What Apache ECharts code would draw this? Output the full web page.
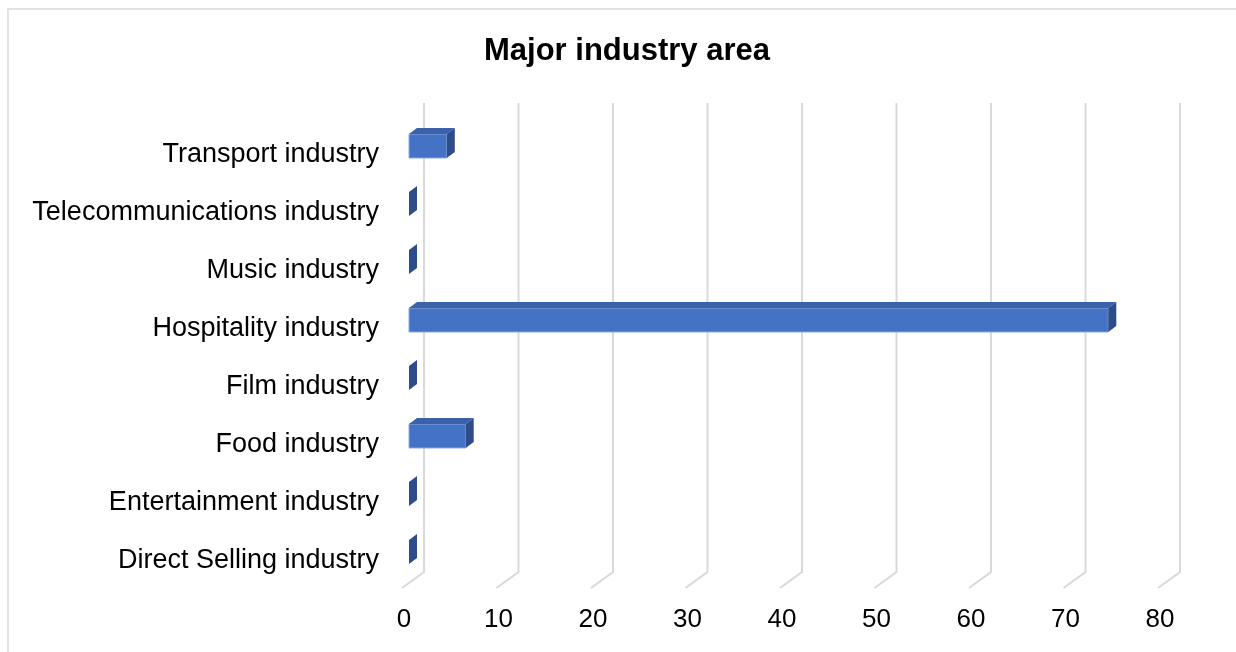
<!DOCTYPE html>
<html>
<head>
<meta charset="utf-8">
<title>Major industry area</title>
<script src="https://cdn.jsdelivr.net/npm/echarts@6/dist/echarts.min.js"></script>
<style>
  html, body { margin: 0; padding: 0; background: #ffffff; }
  #chart { width: 1236px; height: 652px; }
</style>
</head>
<body>
<div id="chart"></div>
<script>
// Industry categories, top to bottom
const categories = [
  'Transport industry',
  'Telecommunications industry',
  'Music industry',
  'Hospitality industry',
  'Film industry',
  'Food industry',
  'Entertainment industry',
  'Direct Selling industry'
];
// Count per industry
const values = [4, 0, 0, 74, 0, 6, 0, 0];
// Value axis ticks
const ticks = [0, 10, 20, 30, 40, 50, 60, 70, 80];

const FONT = '"Liberation Sans", Arial, sans-serif';
const DEPTH_X = 8, DEPTH_Y = 6, BAR_H = 24;

const chart = echarts.init(document.getElementById('chart'));

// 3D-looking bar: front face, top face and right side face
function renderBar(params, api) {
  const cat = api.value(1);
  const p0 = api.coord([0, cat]);
  const p1 = api.coord([api.value(0), cat]);
  const yc = p0[1] - 6;
  const yt = yc - BAR_H / 2, yb = yc + BAR_H / 2;
  const x0 = p0[0], x1 = p1[0];
  return {
    type: 'group',
    children: [
      {
        type: 'rect',
        shape: { x: x0, y: yt, width: x1 - x0, height: BAR_H },
        style: { fill: '#4472C4', stroke: '#8FAADC', lineWidth: x1 - x0 > 1 ? 1 : 0 }
      },
      {
        type: 'polygon',
        shape: { points: [[x0, yt], [x1, yt], [x1 + DEPTH_X, yt - DEPTH_Y], [x0 + DEPTH_X, yt - DEPTH_Y]] },
        style: { fill: '#3A61AA' }
      },
      {
        type: 'polygon',
        shape: { points: [[x1, yt], [x1 + DEPTH_X, yt - DEPTH_Y], [x1 + DEPTH_X, yb - DEPTH_Y], [x1, yb]] },
        style: { fill: '#2C4D89' }
      }
    ]
  };
}

// Back-wall gridline with a floor segment running to the front edge
function renderGridLine(params, api) {
  const cs = params.coordSys;
  const x = api.coord([api.value(0), 0])[0];
  const bottom = cs.y + cs.height;
  return {
    type: 'polyline',
    shape: { points: [[x + 15, cs.y - 20], [x + 15, bottom - 15], [x - 7, bottom + 1]] },
    style: { stroke: '#D9D9D9', lineWidth: 2, fill: null }
  };
}

chart.setOption({
  backgroundColor: '#ffffff',
  animation: false,
  title: {
    text: 'Major industry area',
    left: 622,
    top: 31,
    textAlign: 'center',
    textStyle: { fontFamily: FONT, fontSize: 31, fontWeight: 'bold', color: '#000000' }
  },
  graphic: [{
    type: 'rect',
    z: -10,
    shape: { x: 8, y: 9, width: 1240, height: 660 },
    style: { fill: null, stroke: '#D9D9D9', lineWidth: 1.5 }
  }],
  grid: { left: 409, right: 71, top: 123, bottom: 65, containLabel: false },
  xAxis: {
    type: 'value',
    min: 0,
    max: 80,
    interval: 10,
    axisLine: { show: false },
    axisTick: { show: false },
    splitLine: { show: false },
    axisLabel: {
      margin: 20,
      padding: [0, 10, 0, 0],
      fontFamily: FONT,
      fontSize: 26,
      color: '#000000'
    }
  },
  yAxis: {
    type: 'category',
    inverse: true,
    data: categories,
    axisLine: { show: false },
    axisTick: { show: false },
    splitLine: { show: false },
    axisLabel: {
      margin: 30,
      formatter: v => '{c|' + v + '}',
      rich: {
        c: {
          padding: [5, 0, 0, 0],
          fontFamily: FONT,
          fontSize: 27,
          color: '#000000'
        }
      }
    }
  },
  series: [
    {
      type: 'custom',
      z: 1,
      silent: true,
      renderItem: renderGridLine,
      encode: { x: 0 },
      data: ticks.map(t => [t])
    },
    {
      type: 'custom',
      z: 5,
      renderItem: renderBar,
      encode: { x: 0, y: 1 },
      data: values.map((v, i) => [v, i])
    }
  ]
});
</script>
</body>
</html>
